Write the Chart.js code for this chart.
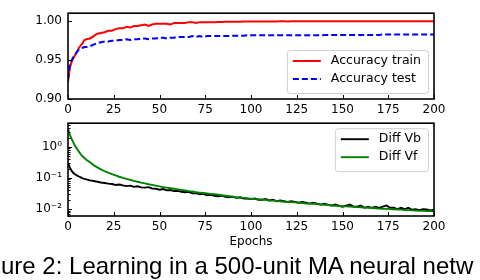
<!DOCTYPE html>
<html>
<head>
<meta charset="utf-8">
<script src="https://cdn.jsdelivr.net/npm/chart.js@4"></script>
<style>
  html, body { margin: 0; padding: 0; background: #fff; width: 480px; height: 280px; overflow: hidden; }
  canvas { position: absolute; left: 0; }
  #top-chart { top: 0; }
  #bottom-chart { top: 110px; }
  #caption {
    position: absolute; left: 1px; top: 253px;
    font: 24px "Liberation Sans", Arial, sans-serif; line-height: 26px;
    white-space: nowrap; color: #000;
  }
</style>
</head>
<body>
<canvas id="top-chart" width="480" height="118"></canvas>
<canvas id="bottom-chart" width="480" height="140"></canvas>
<div id="caption">ure 2: Learning in a 500-unit MA neural netw</div>
<script>
// epochs: every epoch up to 10, then every 2nd
const epochs = [0, 1, 2, 3, 4, 5, 6, 7, 8, 9, 10,
  12, 14, 16, 18, 20, 22, 24, 26, 28, 30, 32, 34, 36, 38, 40, 42, 44, 46, 48, 50,
  52, 54, 56, 58, 60, 62, 64, 66, 68, 70, 72, 74, 76, 78, 80, 82, 84, 86, 88, 90,
  92, 94, 96, 98, 100, 102, 104, 106, 108, 110, 112, 114, 116, 118, 120, 122, 124, 126, 128, 130,
  132, 134, 136, 138, 140, 142, 144, 146, 148, 150, 152, 154, 156, 158, 160, 162, 164, 166, 168, 170,
  172, 174, 176, 178, 180, 182, 184, 186, 188, 190, 192, 194, 196, 198, 200];

const accTrain = [0.922, 0.940, 0.948, 0.953, 0.957, 0.961, 0.966, 0.969, 0.972, 0.976, 0.977,
  0.978, 0.981, 0.984, 0.985, 0.986, 0.988, 0.988, 0.990, 0.991, 0.991, 0.993, 0.992, 0.994, 0.994, 0.995, 0.996, 0.994, 0.996, 0.997, 0.997,
  0.997, 0.997, 0.996, 0.998, 0.998, 0.998, 0.998, 0.999, 0.999, 0.998, 0.999, 0.999, 0.999, 0.999, 0.999, 0.9992, 0.9993, 0.9994, 0.9994, 0.9995,
  0.9996, 0.9996, 0.9997, 0.9997, 0.9998, 0.9998, 0.9998, 0.9999, 0.9999, 0.9999, 0.9999, 0.9999, 1.0, 1.0, 0.9999, 1.0, 1.0, 1.0, 1.0, 1.0,
  1.0, 1.0, 1.0, 1.0, 1.0, 1.0, 1.0, 1.0, 1.0, 1.0, 1.0, 1.0, 1.0, 1.0, 1.0, 1.0, 1.0, 1.0, 1.0, 1.0,
  1.0, 1.0, 1.0, 1.0, 1.0, 1.0, 1.0, 1.0, 1.0, 1.0, 1.0, 1.0, 1.0, 1.0, 1.0];

const accTest = [0.925, 0.944, 0.950, 0.954, 0.958, 0.961, 0.964, 0.965, 0.966, 0.967, 0.967,
  0.968, 0.970, 0.972, 0.973, 0.974, 0.974, 0.975, 0.975, 0.976, 0.976, 0.977, 0.976, 0.977, 0.977, 0.978, 0.978, 0.977, 0.978, 0.978, 0.979,
  0.979, 0.978, 0.979, 0.979, 0.980, 0.980, 0.980, 0.980, 0.981, 0.980, 0.981, 0.980, 0.981, 0.981, 0.981, 0.981, 0.981, 0.981, 0.981, 0.9815,
  0.9815, 0.9815, 0.9815, 0.982, 0.982, 0.982, 0.982, 0.982, 0.982, 0.982, 0.982, 0.982, 0.982, 0.982, 0.982, 0.982, 0.982, 0.982, 0.982, 0.982,
  0.982, 0.982, 0.982, 0.982, 0.9825, 0.9825, 0.9825, 0.9825, 0.9825, 0.9825, 0.9825, 0.9825, 0.9825, 0.9825, 0.9825, 0.9825, 0.9825, 0.9825, 0.9825, 0.9825,
  0.983, 0.983, 0.983, 0.983, 0.983, 0.983, 0.983, 0.983, 0.983, 0.983, 0.983, 0.983, 0.983, 0.983, 0.983];

const diffVb = [0.30, 0.22, 0.17, 0.145, 0.13, 0.12, 0.112, 0.105, 0.098, 0.094, 0.090,
  0.084, 0.080, 0.076, 0.072, 0.069, 0.066, 0.064, 0.060, 0.062, 0.058, 0.055, 0.057, 0.052, 0.054, 0.050, 0.049, 0.051, 0.046, 0.045, 0.042,
  0.044, 0.040, 0.041, 0.038, 0.039, 0.036, 0.035, 0.036, 0.032, 0.033, 0.030, 0.031, 0.028, 0.029, 0.027, 0.026, 0.027, 0.025, 0.024, 0.025,
  0.023, 0.024, 0.022, 0.022, 0.021, 0.022, 0.020, 0.020, 0.021, 0.019, 0.020, 0.018, 0.019, 0.018, 0.017, 0.018, 0.017, 0.016, 0.017, 0.016,
  0.015, 0.016, 0.015, 0.014, 0.015, 0.014, 0.013, 0.014, 0.013, 0.012, 0.013, 0.014, 0.012, 0.012, 0.013, 0.011, 0.012, 0.011, 0.012, 0.011,
  0.012, 0.013, 0.011, 0.011, 0.010, 0.011, 0.010, 0.011, 0.0095, 0.010, 0.0092, 0.010, 0.0098, 0.0090, 0.0095];

const diffVf = [3.8, 2.5, 1.8, 1.35, 1.05, 0.85, 0.70, 0.58, 0.50, 0.44, 0.39,
  0.32, 0.26, 0.22, 0.19, 0.165, 0.148, 0.133, 0.121, 0.110, 0.101, 0.094, 0.087, 0.081, 0.076, 0.071, 0.067, 0.063, 0.060, 0.057, 0.054,
  0.051, 0.049, 0.047, 0.045, 0.043, 0.041, 0.040, 0.038, 0.037, 0.035, 0.034, 0.033, 0.032, 0.031, 0.030, 0.029, 0.028, 0.027, 0.026, 0.025,
  0.024, 0.0235, 0.023, 0.022, 0.0215, 0.021, 0.0205, 0.020, 0.0198, 0.019, 0.0188, 0.018, 0.0178, 0.0172, 0.017, 0.0168, 0.0165, 0.016, 0.0158, 0.0152,
  0.015, 0.0148, 0.0145, 0.014, 0.0138, 0.0135, 0.013, 0.0128, 0.0126, 0.0124, 0.0122, 0.012, 0.0118, 0.0116, 0.0114, 0.0112, 0.011, 0.0108, 0.0106, 0.0104,
  0.0103, 0.0102, 0.0101, 0.0099, 0.0097, 0.0096, 0.0094, 0.0093, 0.0091, 0.009, 0.0089, 0.0088, 0.0087, 0.0086, 0.0085];

const xTicks = [0, 25, 50, 75, 100, 125, 150, 175, 200];
const accTicks = [0.90, 0.95, 1.00];
const diffTicks = [0.01, 0.1, 1];
const diffTickLabels = ['10\u207B\u00B2', '10\u207B\u00B9', '10\u2070'];

const FONT = 'DejaVu Sans';

const toPoints = ys => epochs.map((e, i) => ({ x: e, y: ys[i] }));

// matplotlib-ish frame, inward ticks and a boxed legend
const axesLook = {
  id: 'axesLook',
  afterDraw(chart, args, opts) {
    const { ctx, chartArea: a, scales } = chart;
    ctx.save();
    ctx.strokeStyle = '#000';
    ctx.lineWidth = 1;
    ctx.beginPath();
    scales.x.ticks.forEach(t => {
      const px = Math.round(scales.x.getPixelForValue(t.value)) + 0.5;
      ctx.moveTo(px, a.bottom); ctx.lineTo(px, a.bottom - 4);
    });
    scales.y.ticks.forEach(t => {
      const py = Math.round(scales.y.getPixelForValue(t.value)) + 0.5;
      ctx.moveTo(a.left, py); ctx.lineTo(a.left + 4, py);
    });
    if (opts.minorLog) {
      for (let d = -3; d <= 0; d++) {
        for (let m = 2; m <= 9; m++) {
          const v = m * Math.pow(10, d);
          if (v < scales.y.min || v > scales.y.max) continue;
          const py = Math.round(scales.y.getPixelForValue(v)) + 0.5;
          ctx.moveTo(a.left, py); ctx.lineTo(a.left + 2.5, py);
        }
      }
    }
    ctx.stroke();

    ctx.lineWidth = 1.6;
    ctx.strokeRect(a.left, a.top, a.right - a.left, a.bottom - a.top);

    // legend
    const ds = chart.data.datasets;
    ctx.font = '12.5px "' + FONT + '"';
    const textW = Math.max(...ds.map(d => ctx.measureText(d.label).width));
    const rowH = 18;
    const w = 6 + 28 + 10 + textW + 7;
    const h = rowH * ds.length + 7;
    const x0 = a.right - 6 - w;
    const y0 = opts.legendAt === 'upper' ? a.top + 5 : a.bottom - 6 - h;
    ctx.fillStyle = 'rgba(255,255,255,0.85)';
    ctx.strokeStyle = '#d0d0d0';
    ctx.lineWidth = 1;
    ctx.beginPath();
    ctx.roundRect(x0 + 0.5, y0 + 0.5, w, h, 3);
    ctx.fill();
    ctx.stroke();
    ds.forEach((d, i) => {
      const cy = y0 + 11 + i * rowH;
      ctx.strokeStyle = d.borderColor;
      ctx.lineWidth = d.borderWidth;
      ctx.setLineDash(d.borderDash || []);
      ctx.beginPath();
      ctx.moveTo(x0 + 6, cy); ctx.lineTo(x0 + 34, cy);
      ctx.stroke();
      ctx.setLineDash([]);
      ctx.fillStyle = '#000';
      ctx.textBaseline = 'middle';
      ctx.textAlign = 'left';
      ctx.fillText(d.label, x0 + 44, cy);
    });
    ctx.restore();
  }
};

const tickFont = { family: FONT, size: 12 };

function xScale(height, withTitle) {
  return {
    type: 'linear', min: 0, max: 200,
    grid: { display: false, drawTicks: false },
    border: { display: false },
    afterBuildTicks: s => { s.ticks = xTicks.map(v => ({ value: v })); },
    ticks: { color: '#000', font: tickFont, padding: 4, maxRotation: 0 },
    title: withTitle ? { display: true, text: 'Epochs', color: '#000', font: { family: FONT, size: 12 }, padding: { top: 0, bottom: 1 } } : { display: false },
    afterFit: s => { s.height = height; }
  };
}

new Chart(document.getElementById('top-chart'), {
  type: 'line',
  data: {
    datasets: [
      { label: 'Accuracy train', data: toPoints(accTrain), borderColor: '#ff0000', borderWidth: 2, pointRadius: 0, tension: 0, order: 1 },
      { label: 'Accuracy test', data: toPoints(accTest), borderColor: '#0000ff', borderWidth: 2, borderDash: [6, 3], pointRadius: 0, tension: 0, order: 0 }
    ]
  },
  options: {
    responsive: false, animation: false, devicePixelRatio: 1,
    layout: { padding: { left: 0, right: 46, top: 2, bottom: 0 } },
    plugins: { legend: { display: false }, tooltip: { enabled: false }, axesLook: { legendAt: 'lower' } },
    scales: {
      x: xScale(19, false),
      y: {
        min: 0.9, max: 1.0105,
        grid: { display: false, drawTicks: false },
        border: { display: false },
        afterBuildTicks: s => { s.ticks = accTicks.map(v => ({ value: v })); },
        ticks: { color: '#000', font: tickFont, padding: 6, callback: v => Number(v).toFixed(2) },
        afterFit: s => { s.width = 68; }
      }
    }
  },
  plugins: [axesLook]
});

new Chart(document.getElementById('bottom-chart'), {
  type: 'line',
  data: {
    datasets: [
      { label: 'Diff Vb', data: toPoints(diffVb), borderColor: '#000000', borderWidth: 1.9, pointRadius: 0, tension: 0, order: 1 },
      { label: 'Diff Vf', data: toPoints(diffVf), borderColor: '#008000', borderWidth: 1.9, pointRadius: 0, tension: 0, order: 0 }
    ]
  },
  options: {
    responsive: false, animation: false, devicePixelRatio: 1,
    layout: { padding: { left: 0, right: 46, top: 8, bottom: 0 } },
    plugins: { legend: { display: false }, tooltip: { enabled: false }, axesLook: { legendAt: 'upper', minorLog: true } },
    scales: {
      x: xScale(34, true),
      y: {
        type: 'logarithmic', min: 0.006, max: 5.8,
        grid: { display: false, drawTicks: false },
        border: { display: false },
        afterBuildTicks: s => { s.ticks = diffTicks.map(v => ({ value: v })); },
        ticks: { color: '#000', font: tickFont, padding: 6, callback: v => diffTickLabels[diffTicks.indexOf(v)] || '' },
        afterFit: s => { s.width = 68; }
      }
    }
  },
  plugins: [axesLook]
});
</script>
</body>
</html>
